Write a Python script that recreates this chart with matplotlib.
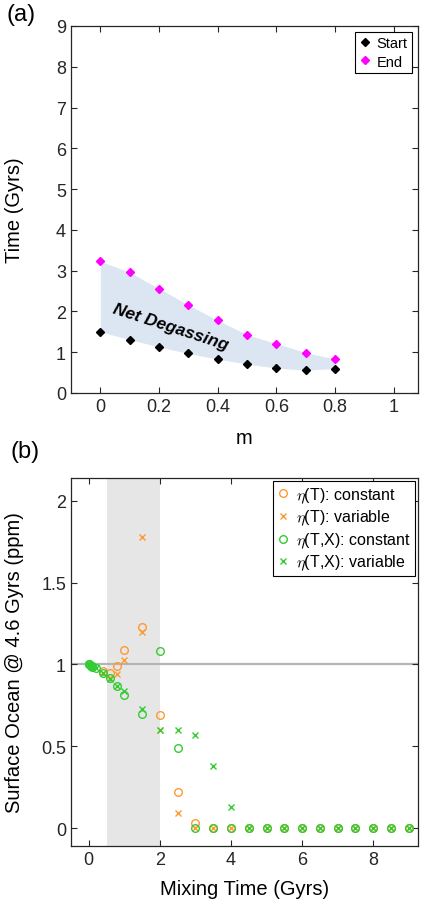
import matplotlib
matplotlib.use("Agg")
import matplotlib.pyplot as plt

plt.rcParams["font.family"] = ["Liberation Sans", "DejaVu Sans"]
plt.rcParams["mathtext.fontset"] = "cm"

# (a) start / end of the net degassing window for each m
m_vals = [0.0, 0.1, 0.2, 0.3, 0.4, 0.5, 0.6, 0.7, 0.8]
t_start = [1.50, 1.31, 1.13, 0.97, 0.83, 0.71, 0.61, 0.56, 0.60]
t_end = [3.23, 2.96, 2.56, 2.16, 1.78, 1.43, 1.21, 0.99, 0.83]

# (b) surface ocean water at 4.6 Gyrs vs mixing time
tail_x = [3.5, 4.0, 4.5, 5.0, 5.5, 6.0, 6.5, 7.0, 7.5, 8.0, 8.5, 9.0]

t_const_x = [0.4, 0.6, 0.8, 1.0, 1.5, 2.0, 2.5, 3.0] + tail_x
t_const_y = [0.96, 0.95, 0.99, 1.09, 1.23, 0.69, 0.22, 0.03] + [0.0] * 12

t_var_x = [0.4, 0.6, 0.8, 1.0, 1.5, 1.5, 2.0, 2.5, 3.0] + tail_x
t_var_y = [0.95, 0.92, 0.94, 1.03, 1.20, 1.78, 0.60, 0.09, 0.0] + [0.0] * 12

tx_const_x = [0.0, 0.02, 0.04, 0.06, 0.08, 0.1, 0.2, 0.4, 0.6, 0.8, 1.0,
              1.5, 2.0, 2.5, 3.0] + tail_x
tx_const_y = [1.0, 1.0, 0.995, 0.99, 0.99, 0.985, 0.98, 0.95, 0.92, 0.87, 0.815,
              0.70, 1.08, 0.49, 0.0] + [0.0] * 12

tx_var_x = [0.0, 0.02, 0.04, 0.06, 0.08, 0.1, 0.2, 0.4, 0.6, 0.8, 1.0,
            1.5, 2.0, 2.5, 3.0] + tail_x
tx_var_y = [1.0, 1.0, 0.995, 0.99, 0.99, 0.985, 0.98, 0.95, 0.91, 0.87, 0.84,
            0.73, 0.60, 0.60, 0.57, 0.38, 0.13] + [0.0] * 10

mix_window = (0.5, 2.0)

orange = "#ff9933"
green = "#33cc33"
axcol = "#262626"

fig = plt.figure(figsize=(4.22, 9.03), dpi=100)
ax_a = fig.add_axes([0.1682, 0.5637, 0.8223, 0.4064])
ax_b = fig.add_axes([0.1682, 0.0620, 0.8223, 0.4075])


def style_axes(ax):
    for sp in ax.spines.values():
        sp.set_color(axcol)
        sp.set_linewidth(0.9)
    ax.tick_params(direction="in", top=True, right=True, length=4,
                   width=0.8, color=axcol, labelsize=13, labelcolor="#262626")


# ---- panel (a)
ax_a.fill_between(m_vals, t_start, t_end, color="#dce6f2", lw=0)
ax_a.plot(m_vals, t_start, "D", color="black", ms=4, label="Start")
ax_a.plot(m_vals, t_end, "D", color="#ff00ff", ms=4, label="End")
ax_a.text(0.24, 1.62, "Net Degassing", rotation=-18, fontsize=12.5,
          fontweight="bold", fontstyle="italic", ha="center", va="center")
ax_a.set_xlim(-0.1, 1.082)
ax_a.set_ylim(0, 9)
ax_a.set_xticks([0, 0.2, 0.4, 0.6, 0.8, 1])
ax_a.set_xticklabels(["0", "0.2", "0.4", "0.6", "0.8", "1"])
ax_a.set_yticks(range(0, 10))
ax_a.set_xlabel("m", fontsize=14.5)
ax_a.set_ylabel("Time (Gyrs)", fontsize=14.5)
ax_a.xaxis.set_label_coords(0.5, -0.095)
ax_a.yaxis.set_label_coords(-0.135, 0.5)
style_axes(ax_a)
leg = ax_a.legend(loc="upper right", fontsize=10.5, handlelength=0.8,
                  handletextpad=0.4, borderpad=0.3, labelspacing=0.3,
                  fancybox=False, framealpha=1, edgecolor="black",
                  borderaxespad=0.4)
leg.get_frame().set_linewidth(0.8)

# ---- panel (b)
ax_b.axvspan(*mix_window, color="#e6e6e6", lw=0, zorder=0)
ax_b.axhline(1, color="#b4b4b4", lw=1.6, zorder=1)
ax_b.plot(t_const_x, t_const_y, "o", mfc="none", mec=orange, ms=5.5, mew=1,
          label=r"$\eta$(T): constant")
ax_b.plot(t_var_x, t_var_y, "x", color=orange, ms=4, mew=1,
          label=r"$\eta$(T): variable")
ax_b.plot(tx_const_x, tx_const_y, "o", mfc="none", mec=green, ms=5.5, mew=1,
          label=r"$\eta$(T,X): constant")
ax_b.plot(tx_var_x, tx_var_y, "x", color=green, ms=4, mew=1,
          label=r"$\eta$(T,X): variable")
ax_b.set_xlim(-0.5, 9.26)
ax_b.set_ylim(-0.11, 2.14)
ax_b.set_xticks([0, 2, 4, 6, 8])
ax_b.set_yticks([0, 0.5, 1, 1.5, 2])
ax_b.set_yticklabels(["0", "0.5", "1", "1.5", "2"])
ax_b.set_xlabel("Mixing Time (Gyrs)", fontsize=14.5)
ax_b.set_ylabel("Surface Ocean @ 4.6 Gyrs (ppm)", fontsize=14.5)
ax_b.xaxis.set_label_coords(0.5, -0.09)
ax_b.yaxis.set_label_coords(-0.135, 0.5)
style_axes(ax_b)
leg = ax_b.legend(loc="upper right", fontsize=11.5, handlelength=0.8,
                  handletextpad=0.4, borderpad=0.25, labelspacing=0.2,
                  fancybox=False, framealpha=1, edgecolor="black",
                  borderaxespad=0.2)
leg.get_frame().set_linewidth(0.8)

fig.text(6 / 422, 1 - 15 / 903, "(a)", fontsize=17, va="center", ha="left")
fig.text(10 / 422, 1 - 452 / 903, "(b)", fontsize=17, va="center", ha="left")

fig.savefig("out.png", dpi=100)
